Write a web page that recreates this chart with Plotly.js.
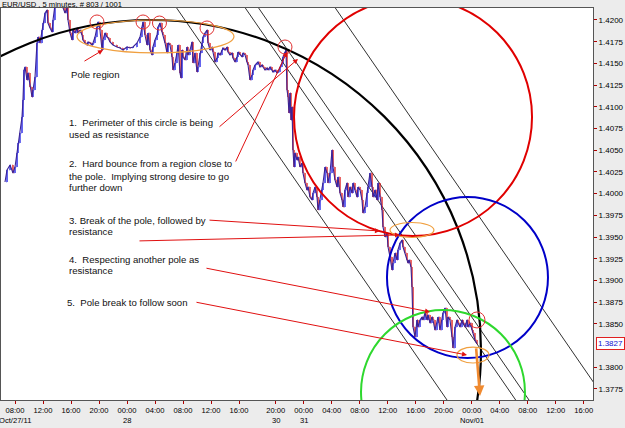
<!DOCTYPE html>
<html>
<head>
<meta charset="utf-8">
<script src="https://cdn.plot.ly/plotly-3.0.1.min.js"></script>
<style>html,body{margin:0;padding:0;background:#ececec;}#chart{width:625px;height:428px;}</style>
</head>
<body>
<div id="chart"></div>
<script>
// chart time in hours (weekend gap removed), price values
const T = [
6.57,6.86,7.29,7.71,8.00,8.29,8.43,8.71,9.00,9.14,
9.29,9.43,9.71,9.86,10.14,10.43,10.57,10.86,11.14,11.29,
11.57,11.86,12.00,12.29,12.57,12.71,13.00,13.29,13.43,13.71,
14.00,14.43,14.71,15.14,15.43,15.57,15.86,16.14,16.29,16.57,
16.86,17.00,17.29,17.57,17.71,18.00,18.29,18.43,18.71,19.00,
19.14,19.43,19.71,19.86,20.14,20.43,20.57,20.86,21.14,21.29,
21.57,22.00,22.57,23.00,23.43,24.00,24.43,24.86,25.43,25.86,
26.14,26.29,26.57,26.86,27.00,27.29,27.57,27.71,28.00,28.29,
28.43,28.71,29.00,29.14,29.43,29.71,29.86,30.14,30.43,30.57,
30.86,31.14,31.29,31.57,31.71,31.86,32.00,32.29,32.57,32.71,
33.00,33.29,33.43,33.71,34.00,34.14,34.43,34.71,34.86,35.14,
35.43,35.57,35.86,36.14,36.29,36.57,36.86,37.00,37.29,37.57,
37.71,38.00,38.29,38.43,38.71,39.00,39.14,39.43,39.71,39.86,
40.14,40.43,40.57,40.86,41.14,41.29,41.57,41.86,42.00,42.29,
42.57,42.71,43.00,43.29,43.43,43.71,44.00,44.14,44.43,44.71,
44.86,45.14,45.43,45.57,45.86,46.14,46.29,46.57,46.71,46.86,
47.00,47.14,47.29,47.43,47.57,47.71,47.86,48.00,48.29,48.43,
48.71,49.00,49.14,49.43,49.71,49.86,50.14,50.43,50.57,50.86,
51.14,51.29,51.57,51.86,52.00,52.29,52.57,52.71,53.00,53.29,
53.43,53.71,54.00,54.14,54.43,54.71,54.86,55.14,55.43,55.57,
55.86,56.14,56.29,56.57,56.86,57.00,57.29,57.57,57.71,58.00,
58.29,58.43,58.71,59.00,59.14,59.43,59.71,59.86,60.14,60.43,
60.57,60.86,61.14,61.29,61.57,61.86,62.00,62.29,62.57,62.71,
63.00,63.29,63.43,63.71,64.00,64.14,64.29,64.57,64.71,64.86,
65.14,65.43,65.57,65.86,66.14,66.29,66.57,66.86,67.00,67.29,
67.57,67.71,68.00,68.29,68.43,68.71,69.00,69.14,69.43,69.71,
69.86,70.14,70.43,70.57,70.86,71.14,71.29,71.57,71.86,72.00,
72.29,72.57,72.71,73.00,73.29,73.43,73.71,74.00];

const PRICE = [
1.40134,1.40272,1.40330,1.40238,1.40307,1.40468,1.40583,1.40698,1.40883,1.41079,
1.41424,1.41459,1.41309,1.41390,1.41228,1.41113,1.41194,1.41343,1.41735,1.41804,
1.41735,1.41885,1.41965,1.42081,1.42115,1.41965,1.41908,1.41862,1.42000,1.42173,
1.42230,1.42196,1.42173,1.42081,1.42138,1.42000,1.41850,1.41770,1.41885,1.41850,
1.41908,1.41850,1.41885,1.41827,1.41770,1.41735,1.41712,1.41747,1.41735,1.41712,
1.41735,1.41804,1.41919,1.41977,1.41885,1.41654,1.41770,1.41850,1.41804,1.41793,
1.41747,1.41712,1.41689,1.41677,1.41654,1.41689,1.41677,1.41689,1.41735,1.41804,
1.41919,1.41977,1.41827,1.41712,1.41850,1.41654,1.41597,1.41689,1.41770,1.41827,
1.41919,1.41965,1.41862,1.41827,1.41735,1.41620,1.41735,1.41712,1.41574,1.41424,
1.41505,1.41620,1.41712,1.41390,1.41332,1.41654,1.41574,1.41539,1.41689,1.41597,
1.41654,1.41747,1.41505,1.41620,1.41401,1.41459,1.41620,1.41735,1.41804,1.41850,
1.41885,1.41735,1.41654,1.41689,1.41631,1.41516,1.41562,1.41620,1.41597,1.41654,
1.41677,1.41654,1.41689,1.41631,1.41597,1.41620,1.41562,1.41516,1.41574,1.41631,
1.41597,1.41574,1.41620,1.41597,1.41516,1.41482,1.41309,1.41367,1.41424,1.41482,
1.41505,1.41516,1.41459,1.41482,1.41459,1.41424,1.41447,1.41424,1.41459,1.41424,
1.41401,1.41424,1.41390,1.41401,1.41459,1.41505,1.41574,1.41631,1.41654,1.41194,
1.41113,1.40929,1.41159,1.40848,1.40998,1.40503,1.40307,1.40468,1.40387,1.40422,
1.40307,1.40353,1.40238,1.40123,1.40042,1.40077,1.39961,1.39927,1.40007,1.40077,
1.39961,1.39812,1.39927,1.40042,1.40123,1.40307,1.40238,1.40123,1.40238,1.40503,
1.40307,1.40157,1.40077,1.40192,1.40007,1.39927,1.39846,1.40042,1.40123,1.39961,
1.40077,1.40007,1.40123,1.40042,1.39961,1.40077,1.40042,1.39927,1.39777,1.39846,
1.40007,1.40077,1.40238,1.40077,1.39961,1.40042,1.39927,1.40123,1.39961,1.39812,
1.39616,1.39501,1.39547,1.39385,1.39270,1.39120,1.39201,1.39316,1.39236,1.39351,
1.39431,1.39466,1.39385,1.39316,1.39236,1.39201,1.39236,1.39155,1.38925,1.38464,
1.38349,1.38545,1.38464,1.38545,1.38579,1.38545,1.38625,1.38545,1.38602,1.38510,
1.38579,1.38545,1.38429,1.38510,1.38579,1.38429,1.38545,1.38625,1.38683,1.38464,
1.38579,1.38545,1.38349,1.38222,1.38464,1.38545,1.38510,1.38464,1.38545,1.38510,
1.38464,1.38545,1.38464,1.38510,1.38429,1.38395,1.38314,1.38270];

const LAST_PRICE = 1.3827;

// x-axis ticks (chart hours) and labels
const xTickVals = [8,12,16,20,24,28,32,36,40,45.25,49.25,53.25,57.25,61.25,65.25,69.25,73.25,77.25,81.25,85.25,89.25];
const xTickText = ["08:00","12:00","16:00","20:00","00:00","04:00","08:00","12:00","16:00","20:00","00:00","04:00","08:00","12:00","16:00","20:00","00:00","04:00","08:00","12:00","16:00"];
const dateVals = [8,24,45.25,49.25,73.25];
const dateText = ["Oct/27/11","28","30","31","Nov/01"];
const yTickVals = [1.3775,1.3800,1.3850,1.3875,1.3900,1.3925,1.3950,1.3975,1.4000,1.4025,1.4050,1.4075,1.4100,1.4125,1.4150,1.4175,1.4200];

// analyst drawings in chart coordinates (hours, price)
const bigCircles = [ // center t, center price, radius (hours), radius (price), colour, width
  [27.43,1.38199,47.14,0.03801,'#000000',2.2],
  [64.86,1.40883,17.0,0.013706,'#e00000',2],
  [72.64,1.39034,11.5,0.009272,'#0000c8',2],
  [69.14,1.37715,11.71,0.009445,'#2ed82e',2]
];
const poleCircles = [[19.71,1.41977,1.0,0.000806],[26.29,1.41977,1.0,0.000806],[28.64,1.41965,1.0,0.000806],[35.43,1.41908,1.0,0.000806],[46.57,1.41689,1.0,0.000806],[74.0,1.38545,1.14,0.00092]];
const poleEllipses = [[28.07,1.4181,11.21,0.0019],[64.71,1.39581,3.14,0.000864],[73.43,1.38141,2.29,0.00092]];
const channelStarts = [31.29,41.10,43.0,53.96]; // hour where each line leaves the top
const channelTopPrice = 1.42115;
const channelSlope = -0.001169; // price per hour
const redArrows = [ // tail t, tail p, head t, head p
  [17.71,1.41516,20.57,1.41654],
  [37.0,1.40756,48.43,1.41551],
  [39.43,1.40353,46.86,1.41631],
  [35.57,1.39696,60.14,1.39570],
  [25.57,1.39455,63.0,1.39524],
  [35.14,1.39144,67.29,1.38637],
  [33.71,1.38752,72.57,1.38141]
];
const orangeArrow = [73.86,1.38234,74.43,1.37669];

const notes = [
  ["Pole region",69,74],
  ["1.\u00a0 Perimeter of this circle is being",67,122],
  ["used as resistance",67,134],
  ["2.\u00a0 Hard bounce from a region close to",67,163],
  ["the pole.\u00a0 Implying strong desire to go",67,176],
  ["further down",67,187],
  ["3. Break of the pole, followed by",67,220],
  ["resistance",67,231],
  ["4.\u00a0 Respecting another pole as",67,259],
  ["resistance",67,270],
  ["5.\u00a0 Pole break to follow soon",65,302]
];

// ---- build ----
const PL=1, PT=8, PW=592, PH=392;
const paperX = px => (px-PL)/PW;
const paperY = py => 1-(py-PT)/PH;

const bx=[],bo=[],bh=[],bl=[],bc=[];
for(let i=1;i<T.length;i++){
  bx.push(T[i]); bo.push(PRICE[i-1]); bc.push(PRICE[i]);
  bh.push(Math.max(PRICE[i-1],PRICE[i])); bl.push(Math.min(PRICE[i-1],PRICE[i]));
}
const traces=[
 {type:'scatter',mode:'lines',x:T,y:PRICE,line:{color:'#3a2496',width:1.1},hoverinfo:'skip',showlegend:false},
 {type:'ohlc', x:bx, open:bo, high:bh, low:bl, close:bc,
  increasing:{line:{color:'#1414e6',width:1.3}},
  decreasing:{line:{color:'#dc1414',width:1.3}},
  tickwidth:0.3, hoverinfo:'skip', showlegend:false}
];

const shapes=[];
channelStarts.forEach(t=>{
  const t0=t-3, t1=t+45;
  shapes.push({type:'line',xref:'x',yref:'y',x0:t0,y0:channelTopPrice+channelSlope*(t0-t),x1:t1,y1:channelTopPrice+channelSlope*(t1-t),line:{color:'#1a1a1a',width:0.9},layer:'below'});
});
bigCircles.forEach(c=>{
  shapes.push({type:'circle',xref:'x',yref:'y',x0:c[0]-c[2],x1:c[0]+c[2],y0:c[1]-c[3],y1:c[1]+c[3],line:{color:c[4],width:c[5]},layer:'above'});
});
poleEllipses.forEach(c=>{
  shapes.push({type:'circle',xref:'x',yref:'y',x0:c[0]-c[2],x1:c[0]+c[2],y0:c[1]-c[3],y1:c[1]+c[3],line:{color:'#f0a040',width:1.2},layer:'above'});
});
poleCircles.forEach(c=>{
  shapes.push({type:'circle',xref:'x',yref:'y',x0:c[0]-c[2],x1:c[0]+c[2],y0:c[1]-c[3],y1:c[1]+c[3],line:{color:'#e03030',width:1},layer:'above'});
});

const annotations=[];
annotations.push({xref:'paper',yref:'paper',x:paperX(0),y:paperY(4),xanchor:'left',yanchor:'middle',align:'left',text:'EUR/USD , 5 minutes, # 803 / 1001',showarrow:false,font:{size:7.6,color:'#000'}});
notes.forEach(n=>{
  annotations.push({xref:'paper',yref:'paper',x:paperX(n[1]),y:paperY(n[2]),xanchor:'left',yanchor:'middle',align:'left',text:n[0],showarrow:false,font:{size:9.6,color:'#111'}});
});
redArrows.forEach(a=>{
  annotations.push({xref:'x',yref:'y',axref:'x',ayref:'y',x:a[2],y:a[3],ax:a[0],ay:a[1],text:'',showarrow:true,arrowhead:2,arrowsize:1,arrowwidth:1,arrowcolor:'#e01010',standoff:0,startstandoff:0});
});
annotations.push({xref:'x',yref:'y',axref:'x',ayref:'y',x:orangeArrow[2],y:orangeArrow[3],ax:orangeArrow[0],ay:orangeArrow[1],text:'',showarrow:true,arrowhead:2,arrowsize:0.8,arrowwidth:2.6,arrowcolor:'#f08a30',standoff:0});
dateVals.forEach((v,i)=>{
  annotations.push({xref:'x',yref:'paper',x:v,y:paperY(420),xanchor:'center',yanchor:'middle',text:dateText[i],showarrow:false,font:{size:7.6,color:'#000'}});
});
annotations.push({xref:'paper',yref:'y',x:1,xshift:3,y:LAST_PRICE,xanchor:'left',yanchor:'middle',text:LAST_PRICE.toFixed(4),showarrow:false,font:{size:8,color:'#1010d0'},bordercolor:'#e02020',borderwidth:1,borderpad:1,bgcolor:'#ffffff'});

const layout={
  width:625,height:428,
  margin:{l:PL,r:625-PL-PW,t:PT,b:428-PT-PH,pad:0},
  paper_bgcolor:'#ececec',plot_bgcolor:'#ffffff',
  font:{family:'"Liberation Sans", Arial, sans-serif',size:8,color:'#000'},
  showlegend:false,
  xaxis:{range:[(PL+41)/7,(PL+PW+41)/7],tickmode:'array',tickvals:xTickVals,ticktext:xTickText,ticks:'outside',ticklen:3,tickcolor:'#b00000',
    tickfont:{size:7.6,color:'#000'},showgrid:false,zeroline:false,showline:true,mirror:true,linecolor:'#555',linewidth:1,rangeslider:{visible:false},fixedrange:true},
  yaxis:{range:[1.37623,1.42138],side:'right',tickmode:'array',tickvals:yTickVals,tickformat:'.4f',ticks:'outside',ticklen:3,tickcolor:'#b00000',
    tickfont:{size:8,color:'#000'},showgrid:false,zeroline:false,showline:true,mirror:true,linecolor:'#555',linewidth:1,fixedrange:true},
  shapes:shapes, annotations:annotations
};
Plotly.newPlot('chart',traces,layout,{staticPlot:true,displayModeBar:false});
</script>
</body>
</html>
